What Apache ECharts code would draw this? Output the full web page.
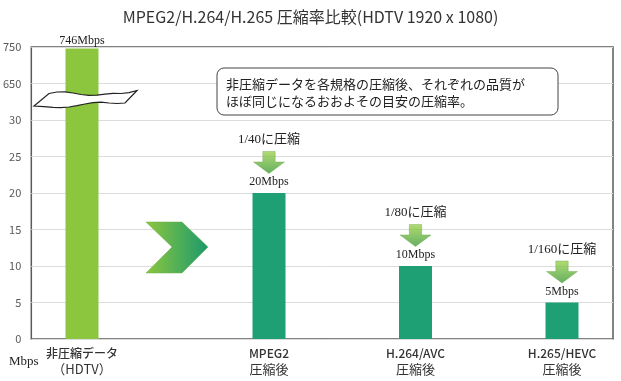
<!DOCTYPE html>
<html>
<head>
<meta charset="utf-8">
<script src="https://cdn.jsdelivr.net/npm/echarts@6/dist/echarts.min.js"></script>
<style>html,body{margin:0;padding:0;background:#fff}#c{width:621px;height:381px}</style>
</head>
<body>
<div id="c"></div>
<script>
// ---- data ----
const categories = ['非圧縮データ', 'MPEG2', 'H.264/AVC', 'H.265/HEVC'];
const subLabels = ['（HDTV）', '圧縮後', '圧縮後', '圧縮後'];
const rates = [746, 20, 10, 5];
const valueLabels = ['746Mbps', '20Mbps', '10Mbps', '5Mbps'];
const ratioLabels = ['', '1/40に圧縮', '1/80に圧縮', '1/160に圧縮'];
const yTickLabels = ['0', '5', '10', '15', '20', '25', '30', '650', '750'];
const noteLines = ['非圧縮データを各規格の圧縮後、それぞれの品質が', 'ほぼ同じになるおおよその目安の圧縮率。'];

// broken axis: 0..30 linear, then 650..750 compressed into the last two steps
const BREAK_LOW = 30, BREAK_HIGH = 650, UPPER_STEP = 100, STEP = 5;
function scaleVal(v) {
  return v <= BREAK_LOW ? v : BREAK_LOW + STEP + (v - BREAK_HIGH) / UPPER_STEP * STEP;
}

const chart = echarts.init(document.getElementById('c'));
const serif = "'Liberation Serif', 'Noto Sans CJK JP', serif";
const sans = "'Noto Sans CJK JP', sans-serif";
const gridBox = { top: 47, bottom: 42 };
const hiddenY = i => ({ type: 'value', gridIndex: i, min: 0, max: 40, interval: 5, show: false });
function xAxisFor(gi, cats, subs, gap) {
  return {
    type: 'category', gridIndex: gi, data: cats, boundaryGap: gap,
    axisLine: { show: false }, axisTick: { show: false },
    axisLabel: {
      interval: 0, margin: 6, color: '#333',
      formatter: (v, i) => '{a|' + v + '}\n{b|' + subs[i] + '}',
      rich: {
        a: { fontFamily: sans, fontSize: 12, lineHeight: 16, color: '#333', fontWeight: 500 },
        b: { fontFamily: sans, fontSize: 13, lineHeight: 16, color: '#333' }
      }
    }
  };
}

const breakTop = [[49,93.5],[57,92],[65,91.8],[73,93],[81,94.5],[89,95.3],[97,95.2],[105,94.2],[113,93.4],[121,93.5],[129,92.6],[137,90.5]];
const breakBottom = [[125,103],[117,103.5],[109,103],[101,102.2],[93,102.6],[85,104],[77,105.7],[69,107],[61,107.6],[53,107.3],[44,106.6],[34,106]];

const option = {
  backgroundColor: '#fff',
  animation: false,
  title: {
    text: 'MPEG2/H.264/H.265 圧縮率比較(HDTV 1920 x 1080)',
    left: 'center', top: 4,
    textStyle: { fontFamily: sans, fontSize: 16, fontWeight: 'normal', color: '#333' }
  },
  grid: [
    { left: 30, right: 8, top: gridBox.top, bottom: gridBox.bottom, show: true, borderColor: '#5a5a5a', borderWidth: 1.5 },
    { left: 30, width: 104, top: gridBox.top, bottom: gridBox.bottom },
    { left: 269, right: 59, top: gridBox.top, bottom: gridBox.bottom }
  ],
  xAxis: [
    { type: 'category', gridIndex: 0, data: [''], show: false },
    xAxisFor(1, categories.slice(0, 1), subLabels.slice(0, 1), true),
    xAxisFor(2, categories.slice(1), subLabels.slice(1), false)
  ],
  yAxis: [
    {
      type: 'value', gridIndex: 0, min: 0, max: 40, interval: 5,
      axisLine: { show: false }, axisTick: { show: false },
      axisLabel: { margin: 10, color: '#595959', fontSize: 11, fontFamily: sans,
        formatter: v => yTickLabels[Math.round(v / STEP)] },
      splitLine: { lineStyle: { color: '#dcdcdc', width: 1 } }
    },
    hiddenY(1), hiddenY(2)
  ],
  series: [
    {
      type: 'bar', xAxisIndex: 1, yAxisIndex: 1, barWidth: 33,
      data: rates.slice(0, 1).map(scaleVal),
      itemStyle: { color: '#8cc63f' },
      label: { show: true, position: 'top', distance: 2, fontFamily: serif, fontSize: 12, color: '#222',
        formatter: p => valueLabels[p.dataIndex] }
    },
    {
      type: 'bar', xAxisIndex: 2, yAxisIndex: 2, barWidth: 33, clip: false,
      data: rates.slice(1).map(scaleVal),
      itemStyle: { color: '#1fa074' },
      label: {
        show: true, position: 'top', distance: 4,
        formatter: p => '{r|' + ratioLabels[p.dataIndex + 1] + '}\n{g| }\n{v|' + valueLabels[p.dataIndex + 1] + '}',
        rich: {
          r: { fontFamily: serif, fontSize: 13, lineHeight: 16, color: '#222' },
          g: { fontSize: 10, lineHeight: 27 },
          v: { fontFamily: serif, fontSize: 12, lineHeight: 14, color: '#222' }
        }
      }
    },
    {
      type: 'scatter', xAxisIndex: 2, yAxisIndex: 2, z: 5, clip: false,
      data: rates.slice(1).map(scaleVal),
      symbol: 'path://M9,0 L21,0 L21,10 L30,10 L15,21 L0,10 L9,10 Z',
      symbolSize: [31, 22], symbolOffset: [0, -30.5],
      itemStyle: {
        color: new echarts.graphic.LinearGradient(0, 0, 0, 1, [
          { offset: 0, color: '#9fd24d' }, { offset: 1, color: '#3e9b3a' }
        ]),
        borderColor: '#6aa84f', borderWidth: 0.5
      },
      silent: true
    }
  ],
  graphic: [
    { // axis break mark across the first bar
      type: 'polygon', z: 100,
      shape: { points: breakTop.concat(breakBottom) },
      style: { fill: '#fff', stroke: '#222', lineWidth: 1.2 }
    },
    { // chevron arrow
      type: 'polygon', z: 100,
      shape: { points: [[146, 222], [182, 222], [208, 247], [182, 273], [146, 273], [172, 247]] },
      style: {
        fill: new echarts.graphic.LinearGradient(0, 0, 1, 0, [
          { offset: 0, color: '#8dc63f' }, { offset: 1, color: '#1a9a6c' }
        ]),
        stroke: '#6fae45', lineWidth: 0.5
      }
    },
    { // note box
      type: 'rect', z: 100,
      shape: { x: 217, y: 68, width: 341, height: 47, r: 7 },
      style: { fill: '#fff', stroke: '#444', lineWidth: 1 }
    },
    {
      type: 'text', z: 101, left: 226, top: 76,
      style: { text: noteLines.join('\n'), fontFamily: sans, fontSize: 13, lineHeight: 17, fill: '#222' }
    },
    {
      type: 'text', z: 101, left: 9, top: 355,
      style: { text: 'Mbps', fontFamily: serif, fontSize: 13, fill: '#222' }
    }
  ]
};
chart.setOption(option);
</script>
</body>
</html>
